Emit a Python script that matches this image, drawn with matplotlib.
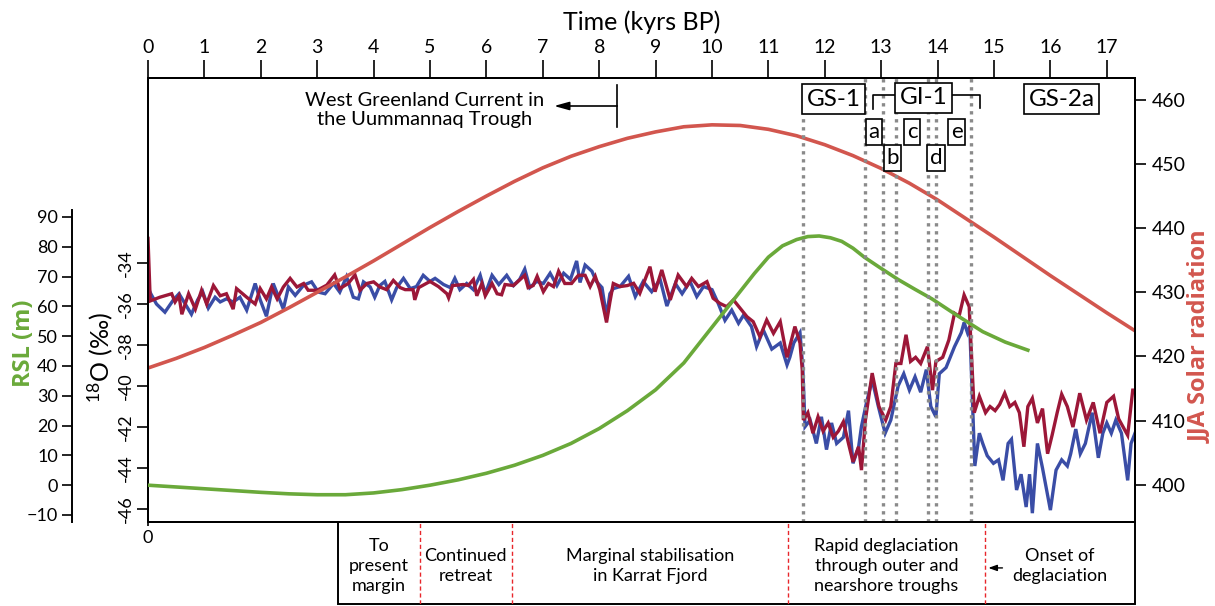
import matplotlib
matplotlib.use("Agg")
import matplotlib.pyplot as plt
import matplotlib.transforms as mtransforms
from matplotlib.patches import Rectangle
import numpy as np

plt.rcParams['font.family'] = ['Lato', 'DejaVu Sans']
plt.rcParams['mathtext.default'] = 'regular'

# ---------------- data ----------------
time_ticks = list(range(0, 18))

# JJA solar radiation (W/m2)
solar_t = [0, 0.5, 1, 1.5, 2, 2.5, 3, 3.5, 4, 4.5, 5, 5.5, 6, 6.5, 7, 7.5, 8, 8.5, 9, 9.5,
           10, 10.5, 11, 11.5, 12, 12.5, 13, 13.5, 14, 14.5, 15, 15.5, 16, 16.5, 17, 17.5]
solar_v = [418.2, 419.7, 421.4, 423.3, 425.3, 427.6, 430.0, 432.4, 434.9, 437.5, 440.1, 442.6,
           445.0, 447.3, 449.4, 451.2, 452.7, 454.0, 455.0, 455.8, 456.1, 456.0, 455.4, 454.4,
           453.0, 451.3, 449.3, 447.0, 444.4, 441.5, 438.6, 435.6, 432.6, 429.7, 426.8, 424.0]

# Relative sea level (m)
rsl_t = [0, 0.5, 1, 1.5, 2, 2.5, 3, 3.5, 4, 4.5, 5, 5.5, 6, 6.5, 7, 7.5, 8, 8.5, 9, 9.25,
         9.5, 9.75, 10, 10.25, 10.5, 10.75, 11, 11.25, 11.5, 11.7, 11.9, 12.1, 12.3, 12.5,
         12.7, 13.0, 13.3, 13.6, 13.9, 14.3, 14.8, 15.2, 15.6]
rsl_v = [0, -0.6, -1.2, -1.8, -2.4, -2.9, -3.2, -3.2, -2.6, -1.5, 0, 1.8, 4.0, 6.7, 10, 14,
         19, 25, 32, 36.5, 41, 47, 53, 59, 65, 71, 76.5, 80.3, 82.4, 83.4, 83.6, 83.0, 81.8,
         79.5, 76.5, 72.7, 69, 65.7, 62.5, 57.5, 51.5, 48, 45.3]

# d18O record 1 (dark red)
d18o_red_t = [0.00, 0.04, 0.21, 0.42, 0.48, 0.55, 0.60, 0.72, 0.84, 0.95, 1.04, 1.16, 1.28,
              1.39, 1.51, 1.57, 1.75, 1.90, 1.99, 2.10, 2.19, 2.29, 2.40, 2.52, 2.64, 2.76,
              2.84, 3.00, 3.17, 3.31, 3.40, 3.55, 3.67, 3.76, 3.88, 4.00, 4.11, 4.23, 4.35,
              4.47, 4.56, 4.70, 4.73, 4.80, 5.00, 5.15, 5.30, 5.33, 5.40, 5.59, 5.68, 5.77,
              5.83, 5.92, 5.98, 6.10, 6.19, 6.27, 6.33, 6.48, 6.68, 6.74, 6.83, 6.90, 7.01,
              7.10, 7.19, 7.28, 7.39, 7.51, 7.63, 7.75, 7.84, 7.93, 8.01, 8.13, 8.19, 8.25,
              8.37, 8.50, 8.61, 8.72, 8.90, 8.99, 9.11, 9.26, 9.40, 9.55, 9.64, 9.76, 9.91,
              10.02, 10.14, 10.26, 10.38, 10.50, 10.62, 10.73, 10.85, 10.97, 11.09, 11.21,
              11.33, 11.47, 11.56, 11.60, 11.62, 11.70, 11.79, 11.88, 11.97, 12.06, 12.15,
              12.24, 12.33, 12.42, 12.50, 12.60, 12.65, 12.72, 12.84, 12.96, 13.08, 13.17,
              13.26, 13.35, 13.44, 13.52, 13.61, 13.70, 13.82, 13.91, 13.97, 14.09, 14.20,
              14.30, 14.38, 14.47, 14.56, 14.65, 14.74, 14.85, 14.93, 15.02, 15.10, 15.19,
              15.28, 15.37, 15.45, 15.53, 15.60, 15.68, 15.77, 15.86, 15.95, 16.03, 16.12,
              16.20, 16.30, 16.40, 16.52, 16.64, 16.76, 16.88, 17.00, 17.12, 17.21, 17.37,
              17.46, 17.52]
d18o_red_v = [-32.8, -35.85, -35.67, -35.5, -35.9, -35.6, -36.5, -35.5, -36.25, -35.33, -36.0,
              -35.1, -35.6, -35.5, -36.25, -35.25, -35.67, -36.0, -35.25, -35.75, -35.17,
              -35.75, -35.17, -34.75, -35.17, -35.0, -35.33, -35.33, -35.08, -34.58, -35.25,
              -35.0, -34.58, -35.33, -35.0, -34.92, -35.17, -35.3, -34.85, -35.2, -35.3,
              -35.3, -35.8, -35.2, -34.9, -35.15, -35.5, -35.7, -35.1, -35.05, -35.1, -34.8,
              -35.6, -35.0, -35.6, -35.0, -35.5, -35.55, -35.05, -35.1, -34.6, -35.2, -35.1,
              -34.65, -35.4, -35.0, -35.15, -34.4, -35.0, -35.0, -34.6, -34.6, -35.15, -34.65,
              -35.3, -36.9, -35.9, -35.0, -35.15, -35.1, -34.99, -35.48, -34.18, -35.4,
              -34.34, -35.8, -34.59, -35.15, -34.75, -35.15, -34.91, -35.72, -35.97, -36.13,
              -35.8, -36.21, -36.62, -36.86, -37.6, -36.78, -37.43, -36.86, -38.6, -37.1,
              -37.9, -39.2, -41.66, -41.3, -42.3, -41.5, -42.2, -41.8, -42.5, -42.2, -41.74,
              -42.8, -43.7, -42.96, -44.1, -41.66, -39.37, -41.0, -41.66, -41.0, -38.9, -38.9,
              -37.5, -38.8, -38.6, -38.9, -38.08, -40.2, -38.8, -38.6, -37.75, -36.45, -36.6,
              -35.56, -36.13, -41.3, -40.5, -41.3, -41.0, -41.2, -40.9, -40.35, -41.0, -40.8,
              -41.3, -42.96, -41.0, -40.6, -41.8, -41.1, -43.3, -42.4, -41.3, -40.4, -41.0,
              -42.0, -40.35, -41.66, -40.8, -42.3, -40.8, -40.5, -41.6, -42.4, -40.2, -40.2]

# d18O record 2 (blue)
d18o_blue_t = [0.00, 0.05, 0.15, 0.30, 0.45, 0.55, 0.66, 0.77, 0.88, 0.97, 1.07, 1.19, 1.28,
               1.39, 1.51, 1.63, 1.75, 1.90, 1.99, 2.10, 2.22, 2.40, 2.49, 2.61, 2.76, 2.90,
               3.02, 3.14, 3.29, 3.40, 3.52, 3.64, 3.73, 3.82, 3.94, 4.02, 4.11, 4.20, 4.32,
               4.41, 4.53, 4.65, 4.76, 4.88, 5.00, 5.09, 5.24, 5.36, 5.44, 5.53, 5.65, 5.77,
               5.89, 5.98, 6.10, 6.22, 6.36, 6.48, 6.59, 6.68, 6.77, 6.89, 7.01, 7.13, 7.25,
               7.37, 7.49, 7.60, 7.66, 7.75, 7.87, 7.95, 8.05, 8.13, 8.19, 8.25, 8.37, 8.52,
               8.64, 8.78, 8.93, 9.08, 9.20, 9.35, 9.47, 9.61, 9.73, 9.85, 10.00, 10.11, 10.23,
               10.35, 10.47, 10.56, 10.70, 10.79, 10.91, 11.06, 11.21, 11.33, 11.38, 11.45,
               11.56, 11.61, 11.65, 11.74, 11.85, 11.94, 12.03, 12.12, 12.21, 12.33, 12.42,
               12.50, 12.60, 12.65, 12.74, 12.84, 12.95, 13.07, 13.17, 13.30, 13.40, 13.50,
               13.60, 13.70, 13.80, 13.88, 13.97, 14.03, 14.15, 14.30, 14.42, 14.47, 14.53,
               14.57, 14.66, 14.74, 14.80, 14.88, 14.99, 15.08, 15.16, 15.25, 15.31, 15.40,
               15.48, 15.57, 15.63, 15.68, 15.77, 15.86, 16.00, 16.10, 16.20, 16.30, 16.36,
               16.45, 16.53, 16.62, 16.74, 16.85, 16.93, 17.00, 17.08, 17.16, 17.26, 17.37,
               17.43, 17.50]
d18o_blue_v = [-35.2, -35.5, -36.0, -36.4, -35.8, -35.5, -36.0, -36.5, -35.8, -35.4, -36.2,
               -35.67, -35.9, -35.75, -35.9, -35.67, -36.3, -35.0, -35.8, -36.6, -35.0, -36.25,
               -35.17, -35.58, -35.08, -34.92, -35.42, -35.5, -35.0, -35.42, -34.67, -35.67,
               -35.75, -34.92, -35.17, -35.67, -35.1, -34.9, -35.8, -35.2, -34.75, -35.25,
               -35.15, -34.6, -34.9, -34.75, -35.05, -35.2, -34.75, -35.3, -35.0, -35.3, -34.6,
               -35.5, -34.6, -35.05, -34.6, -35.1, -34.8, -34.3, -35.2, -34.9, -35.0, -34.5,
               -35.1, -34.5, -34.8, -33.9, -34.95, -34.1, -34.4, -34.9, -35.2, -36.6, -35.5,
               -35.25, -35.15, -34.65, -35.64, -34.9, -35.4, -34.8, -36.1, -35.0, -35.5, -34.9,
               -35.64, -35.15, -35.3, -35.97, -36.8, -36.3, -36.94, -36.54, -37.1, -38.08,
               -37.27, -38.2, -37.9, -38.97, -38.6, -37.9, -37.4, -39.1, -41.98, -41.66, -42.8,
               -41.5, -43.1, -41.8, -42.8, -42.5, -41.2, -43.77, -42.96, -41.97, -40.8, -39.7,
               -41.0, -42.3, -41.66, -40.0, -39.4, -40.2, -39.55, -40.3, -39.2, -41.0, -41.5,
               -39.4, -39.1, -38.08, -37.4, -36.9, -37.4, -37.1, -43.9, -42.3, -42.8, -43.4,
               -43.77, -43.6, -44.6, -42.8, -42.6, -45.07, -44.3, -45.9, -44.3, -46.2, -42.8,
               -44.0, -46.05, -44.1, -43.6, -43.9, -43.3, -42.1, -43.3, -42.8, -41.3, -43.5,
               -42.3, -41.8, -42.3, -41.66, -42.3, -44.6, -42.8, -42.3]

# stadial / interstadial boundaries (kyr BP)
boundary_t = [11.62, 12.71, 13.03, 13.26, 13.83, 13.98, 14.60]

# bottom table
phase_edges = [3.37, 4.82, 6.45, 11.35, 14.84, 17.5]
phase_labels = ["To\npresent\nmargin", "Continued\nretreat",
                "Marginal stabilisation\nin Karrat Fjord",
                "Rapid deglaciation\nthrough outer and\nnearshore troughs",
                "Onset of\ndeglaciation"]

# ---------------- figure ----------------
W, H = 1215, 606
fig = plt.figure(figsize=(W / 100, H / 100), dpi=100)

L, R, T, B = 148, 1135, 78, 522
ax = fig.add_axes([L / W, 1 - B / H, (R - L) / W, (B - T) / H])
ax.set_xlim(0, 17.5)
ax.set_ylim(-46.63, -24.98)

col_blue = '#3a4da6'
col_red = '#9c1738'
col_solar = '#d2564e'
col_green = '#6aa93a'

ax.plot(d18o_blue_t, d18o_blue_v, color=col_blue, lw=2.4, solid_joinstyle='miter', zorder=2)
ax.plot(d18o_red_t, d18o_red_v, color=col_red, lw=2.4, solid_joinstyle='miter', zorder=3)

for s in ax.spines.values():
    s.set_linewidth(1.4)

# top axis
ax.xaxis.tick_top()
ax.set_xticks(time_ticks)
ax.set_xticklabels([str(t) for t in time_ticks], fontsize=14)
ax.tick_params(axis='x', direction='out', length=13, width=1.2, pad=3)
ax.xaxis.set_label_position('top')
ax.set_xlabel('Time (kyrs BP)', fontsize=18, labelpad=6)

# bottom "0"
secx = ax.secondary_xaxis('bottom')
secx.set_xticks([0])
secx.set_xticklabels(['0'], fontsize=13)
secx.tick_params(length=3, width=1.2, pad=3)
secx.spines['bottom'].set_visible(False)

def yf(py):
    return (B - py) / (B - T)

# left d18O axis
ax.set_yticks([-46, -44, -42, -40, -38, -36, -34])
ax.set_yticklabels(['-46', '-44', '-42', '-40', '-38', '-36', '-34'], fontsize=13,
                   rotation=90, va='center')
ax.tick_params(axis='y', direction='out', length=8, width=1.2, pad=2)
ax.set_ylabel(r'$^{18}$O (‰)', fontsize=18)
ax.yaxis.set_label_coords((115 - L) / (R - L), yf(358))

# right solar axis
ax_sol = ax.twinx()
ax_sol.set_ylim(394.2, 463.4)
ax_sol.plot(solar_t, solar_v, color=col_solar, lw=2.6, zorder=2)
ax_sol.set_yticks([400, 410, 420, 430, 440, 450, 460])
ax_sol.tick_params(axis='y', direction='out', length=8, width=1.2, labelsize=14, pad=4)
ax_sol.set_ylabel('JJA Solar radiation', color=col_solar, fontsize=17, fontweight='bold',
                  family=['Open Sans', 'DejaVu Sans'])
ax_sol.yaxis.set_label_coords((1188 - L) / (R - L), yf(337))
for s in ax_sol.spines.values():
    s.set_linewidth(1.4)

# RSL axis (left, offset)
ax_rsl = ax.twinx()
ax_rsl.set_ylim(-12.35, 136.6)
ax_rsl.plot(rsl_t, rsl_v, color=col_green, lw=2.6, zorder=4)
ax_rsl.yaxis.set_ticks_position('left')
ax_rsl.yaxis.set_label_position('left')
ax_rsl.spines['left'].set_position(('outward', (L - 72) * 0.72))
ax_rsl.spines['left'].set_bounds(-12.35, 92.3)
ax_rsl.spines['left'].set_linewidth(1.4)
for k in ['right', 'top', 'bottom']:
    ax_rsl.spines[k].set_visible(False)
ax_rsl.set_yticks(list(range(-10, 100, 10)))
ax_rsl.tick_params(axis='y', direction='out', length=7, width=1.2, labelsize=13, pad=3)
ax_rsl.set_ylabel('RSL (m)', color=col_green, fontsize=17, fontweight='bold',
                  family=['Open Sans', 'DejaVu Sans'])
ax_rsl.yaxis.set_label_coords((36 - L) / (R - L), yf(343))

# overlay transform: x in data, y in axes fraction
trans = mtransforms.blended_transform_factory(ax_rsl.transData, ax_rsl.transAxes)

# dotted boundaries
for i, bt in enumerate(boundary_t):
    top = yf(115) if i == 0 else 1.0
    ax_rsl.plot([bt, bt], [0, top], transform=trans, color='#8a8a8a', lw=2.4,
                linestyle=(0, (1, 1.4)), zorder=5, clip_on=False)

# bracket for GI-1
ax_rsl.plot([12.855, 12.855, 14.75, 14.75], [yf(109), yf(95), yf(95), yf(108)],
            transform=trans, color='k', lw=1.2, zorder=6, clip_on=False)

box_kw = dict(boxstyle='square,pad=0.18', fc='white', ec='k', lw=1.2)
for txt, xc, py in [('GS-1', 12.16, 99), ('GI-1', 13.75, 98), ('GS-2a', 16.2, 99)]:
    ax_rsl.text(xc, yf(py), txt, transform=trans, fontsize=17.5, ha='center', va='center',
                bbox=box_kw, zorder=7)
small_kw = dict(boxstyle='square,pad=0.12', fc='white', ec='k', lw=1.2)
for txt, xc, py in [('a', 12.87, 132), ('b', 13.2, 158), ('c', 13.55, 132),
                    ('d', 13.98, 158), ('e', 14.34, 132)]:
    ax_rsl.text(xc, yf(py), txt, transform=trans, fontsize=16, ha='center', va='center',
                bbox=small_kw, zorder=7)

# West Greenland Current annotation
ax_rsl.text(4.9, yf(110), 'West Greenland Current in\nthe Uummannaq Trough', transform=trans,
            fontsize=14.5, ha='center', va='center', linespacing=1.2, zorder=7)
ax_rsl.plot([8.32, 8.32], [yf(85), yf(127)], transform=trans, color='k', lw=1.2, zorder=7)
ax_rsl.annotate('', xy=(7.2, yf(106)), xycoords=trans, xytext=(8.32, yf(106)),
                textcoords=trans,
                arrowprops=dict(arrowstyle='-|>,head_length=0.9,head_width=0.25', color='k',
                                lw=1.2, shrinkA=0, shrinkB=0), zorder=7)

# ---------------- bottom table ----------------
TB = 604
axt = fig.add_axes([L / W, 1 - TB / H, (R - L) / W, (TB - B) / H])
axt.set_xlim(0, 17.5)
axt.set_ylim(0, 1)
axt.axis('off')
axt.add_patch(Rectangle((phase_edges[0], 0), phase_edges[-1] - phase_edges[0], 1,
                        fill=False, ec='k', lw=1.4, clip_on=False))
for e in phase_edges[1:-1]:
    axt.plot([e, e], [0, 1], color='#e8262b', lw=1.0, linestyle=(0, (3, 2)))
for i, lab in enumerate(phase_labels):
    xc = 0.5 * (phase_edges[i] + phase_edges[i + 1])
    axt.text(xc, 0.46, lab, fontsize=13, ha='center', va='center', linespacing=1.3)
axt.annotate('', xy=(14.9, 0.44), xytext=(15.15, 0.44),
             arrowprops=dict(arrowstyle='-|>,head_length=0.5,head_width=0.18', color='k',
                             lw=1.0, shrinkA=0, shrinkB=0))

fig.savefig('out.png', dpi=100)
